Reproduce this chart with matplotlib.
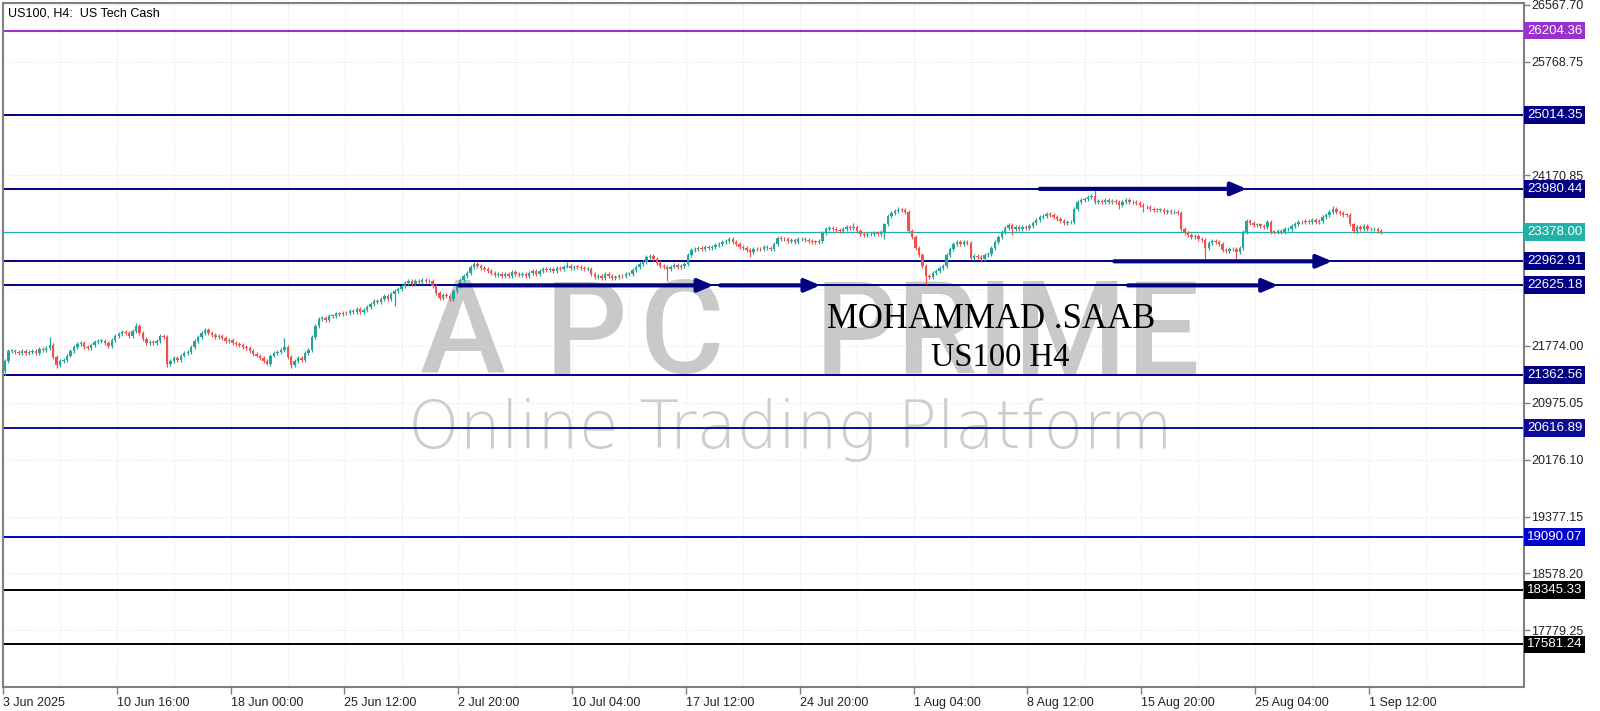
import matplotlib.pyplot as plt
from matplotlib.transforms import blended_transform_factory

# ---- values (US100 H4, 3 Jun - 2 Sep 2025) ----
first_open = 21420
closes = [
    21560, 21700, 21710, 21690, 21680, 21700, 21670, 21690, 21700, 21680,
    21730, 21720, 21740, 21790, 21620, 21500, 21560, 21580, 21640, 21700,
    21760, 21800, 21820, 21760, 21740, 21790, 21830, 21840, 21850, 21820,
    21780, 21860, 21920, 21940, 21970, 21950, 21920, 21990, 22050, 21960,
    21870, 21810, 21830, 21810, 21840, 21910, 21900, 21520, 21560, 21600,
    21580, 21640, 21670, 21690, 21760, 21850, 21900, 21960, 22000, 21950,
    21930, 21900, 21910, 21880, 21850, 21860, 21820, 21800, 21790, 21760,
    21740, 21700, 21660, 21640, 21600, 21560, 21520, 21640, 21680, 21690,
    21720, 21760, 21620, 21500, 21560, 21610, 21580, 21680, 21720, 21900,
    22060, 22150, 22170, 22140, 22190, 22200, 22230, 22220, 22240, 22230,
    22260, 22250, 22290, 22250, 22280, 22320, 22360, 22400, 22390, 22440,
    22470, 22430, 22500, 22540, 22580, 22620, 22660, 22680, 22650, 22690,
    22670, 22700, 22680, 22690, 22620, 22520, 22450, 22490, 22470, 22430,
    22550, 22620, 22700, 22760, 22800, 22880, 22930, 22900, 22870, 22860,
    22830, 22800, 22770, 22780, 22750, 22790, 22760, 22810, 22780, 22770,
    22790, 22760, 22800, 22820, 22790, 22830, 22850, 22840, 22860, 22830,
    22870, 22860, 22890, 22900, 22870, 22890, 22880, 22870, 22850, 22860,
    22780, 22740, 22760, 22730, 22780, 22750, 22730, 22740, 22760, 22750,
    22780, 22790, 22840, 22880, 22920, 22960, 23020, 23040, 22990, 22940,
    22900, 22880, 22860, 22890, 22910, 22880, 22900, 22930, 23050, 23120,
    23140, 23150, 23130, 23160, 23150, 23170, 23190, 23210, 23230, 23250,
    23270, 23240, 23200, 23170, 23150, 23120, 23100, 23130, 23140, 23130,
    23160, 23150, 23140, 23200, 23290, 23280, 23270, 23250, 23260, 23240,
    23270, 23280, 23260, 23250, 23240, 23230, 23250, 23360, 23420, 23430,
    23410, 23400, 23390, 23420, 23440, 23430, 23450, 23390, 23340, 23330,
    23350, 23340, 23360, 23350, 23370, 23480, 23600, 23640, 23670, 23690,
    23680, 23660, 23390, 23300, 23150, 23050, 22900, 22760, 22740, 22800,
    22830, 22870, 22900, 23050, 23130, 23200, 23230, 23210, 23240, 23220,
    23010, 23040, 23030, 22990, 23050, 23060, 23150, 23240, 23310, 23380,
    23430, 23470, 23410, 23440, 23420, 23450, 23430, 23460, 23500, 23540,
    23580, 23600, 23630, 23610, 23590, 23560, 23530, 23500, 23520, 23510,
    23700, 23790, 23820, 23840, 23860, 23880, 23800, 23810, 23790, 23820,
    23800, 23810, 23790, 23760, 23800, 23820, 23790, 23800, 23780, 23760,
    23720, 23730, 23700, 23690, 23680, 23690, 23660, 23670, 23650, 23660,
    23640, 23420, 23360, 23330, 23300, 23320, 23280, 23260, 23150, 23220,
    23250, 23230, 23210, 23120, 23110, 23140, 23130, 23100, 23150, 23380,
    23530, 23500, 23470, 23480, 23460, 23450, 23510, 23380, 23370, 23390,
    23380, 23410, 23420, 23460, 23490, 23520, 23510, 23530, 23520, 23540,
    23510, 23530, 23580, 23620, 23660, 23700, 23650, 23640, 23620, 23610,
    23480, 23390, 23440, 23410, 23460, 23420, 23410, 23420, 23390, 23378,
]
# candles with long wicks
long_highs = {13: 21900, 38: 22100, 58: 22030, 81: 21880, 136: 22960, 163: 22960,
              187: 23060, 210: 23300, 246: 23500, 259: 23720, 316: 23960, 385: 23740}
long_lows = {0: 21365, 15: 21470, 47: 21480, 76: 21500, 83: 21470, 113: 22330,
             129: 22400, 192: 22690, 216: 23030, 255: 23270, 267: 22650, 283: 22960,
             292: 23330, 323: 23693, 330: 23650, 348: 22970, 357: 22995}
wick = 28

time_ticks = [0, 33, 66, 99, 132, 165, 198, 231, 264, 297, 330, 363, 396]
time_labels = ['3 Jun 2025', '10 Jun 16:00', '18 Jun 00:00', '25 Jun 12:00', '2 Jul 20:00',
               '10 Jul 04:00', '17 Jul 12:00', '24 Jul 20:00', '1 Aug 04:00', '8 Aug 12:00',
               '15 Aug 20:00', '25 Aug 04:00', '1 Sep 12:00']

price_ticks = [26567.70, 25768.75, 24170.85, 21774.00, 20975.05, 20176.10,
               19377.15, 18578.20, 17779.25]
grid_prices = [17779.25, 18578.20, 19377.15, 20176.10, 20975.05, 21774.00, 22572.95,
               23371.90, 24170.85, 24969.80, 25768.75, 26567.70]

levels = [26204.36, 25014.35, 23980.44, 23378.00, 22962.91, 22625.18,
          21362.56, 20616.89, 19090.07, 18345.33, 17581.24]
level_colors = ['#9932cc', '#000080', '#000080', '#20b2aa', '#000080', '#000080',
                '#000080', '#0a0a96', '#0000cd', '#000000', '#000000']
level_widths = [1.5, 1.4, 1.4, 0.9, 1.4, 1.4, 1.4, 1.4, 1.4, 1.4, 1.4]

arrow_price = [23980.44, 22962.91, 22625.18, 22625.18, 22625.18]
arrow_from = [300, 321.6, 325.6, 131.7, 207.4]
arrow_to = [360, 384.8, 369.1, 205.4, 236.4]

UP = '#26a69a'
DOWN = '#ef5350'
WM = '#c9c9c9'

fig = plt.figure(figsize=(16, 7.11), dpi=100)
ax = fig.add_axes([3 / 1600, 24 / 711, 1521 / 1600, 684 / 711])
ax.set_xlim(-0.43, 440.4)
ax.set_ylim(16984, 26591)

# grid
for k in range(27):
    ax.axvline(-0.5 + 16.5 * k, color='#d8d8d8', lw=0.6, ls=(0, (1, 2)), zorder=1)
for g in grid_prices:
    ax.axhline(g, color='#d8d8d8', lw=0.6, ls=(0, (1, 2)), zorder=1)

# watermark
base = 1 - 373 / 711
for letter, left in zip(['A', 'P', 'C'], [420, 545, 640]):
    ax.text(left / 1600, base, letter, transform=fig.transFigure, fontsize=93,
            family='Roboto', fontweight='medium', color=WM, ha='left', va='baseline',
            zorder=0.5)
ax.text(815 / 1600, base, 'PRIME', transform=fig.transFigure, fontsize=93,
        family='Roboto', fontweight='medium', color=WM, ha='left', va='baseline', zorder=0.5)
ax.text(408 / 1600, 1 - 448 / 711, 'Online Trading Platform', transform=fig.transFigure,
        fontsize=47, family='DejaVu Sans', fontweight=200, color='#cdcdcd', ha='left',
        va='baseline', zorder=0.5)

# levels
lab_tr = blended_transform_factory(ax.transAxes, ax.transData)
for lv, col, w in zip(levels, level_colors, level_widths):
    ax.axhline(lv, color=col, lw=w, zorder=2)
    ax.text(1.002, lv, f'{lv:.2f}', transform=lab_tr, ha='left', va='center',
            fontsize=9.5, family='Liberation Sans', color='white', zorder=6,
            bbox=dict(boxstyle='square,pad=0.22', fc=col, ec='none'))

# candles
idx, bottoms, heights, highs, lows, colors = [], [], [], [], [], []
prev = first_open
for i, c in enumerate(closes):
    o = prev
    top, bot = max(o, c), min(o, c)
    idx.append(i)
    bottoms.append(bot)
    heights.append(max(top - bot, 12))
    highs.append(long_highs.get(i, top + wick))
    lows.append(long_lows.get(i, bot - wick))
    colors.append(UP if c >= o else DOWN)
    prev = c
ax.vlines(idx, lows, highs, colors=colors, lw=0.9, zorder=3)
ax.bar(idx, heights, bottom=bottoms, width=0.7, color=colors, linewidth=0, zorder=3.5)

# arrows
for p, a, b in zip(arrow_price, arrow_from, arrow_to):
    ax.annotate('', xy=(b, p), xytext=(a, p),
                arrowprops=dict(arrowstyle='-|>,head_length=0.75,head_width=0.32',
                                mutation_scale=12, lw=3, color='#000080',
                                shrinkA=0, shrinkB=0), zorder=4)

# author text
ax.text(991 / 1600, 1 - 328 / 711, 'MOHAMMAD .SAAB', transform=fig.transFigure,
        family='Liberation Serif', fontsize=25, ha='center', va='baseline', zorder=5)
ax.text(1000 / 1600, 1 - 366 / 711, 'US100 H4', transform=fig.transFigure,
        family='Liberation Serif', fontsize=23.5, ha='center', va='baseline', zorder=5)

ax.text(0.0035, 0.994, 'US100, H4:  US Tech Cash', transform=ax.transAxes, ha='left',
        va='top', fontsize=9, family='Liberation Sans', color='black', zorder=6)

# axes
ax.yaxis.tick_right()
ax.set_yticks(price_ticks)
ax.set_yticklabels([f'{v:.2f}' for v in price_ticks], family='Liberation Sans',
                   fontsize=9, color='#222222')
ax.set_xticks([t - 0.55 for t in time_ticks])
ax.set_xticklabels(time_labels, family='Liberation Sans', fontsize=9, color='#222222')
for lab in ax.get_xticklabels():
    lab.set_horizontalalignment('left')
ax.tick_params(axis='y', direction='out', length=4, width=1, color='#808080', pad=1)
ax.tick_params(axis='x', direction='out', length=5, width=1, color='#808080', pad=2)
for s in ax.spines.values():
    s.set_color('#808080')
    s.set_linewidth(1.5)

fig.savefig('out.png', dpi=100)
